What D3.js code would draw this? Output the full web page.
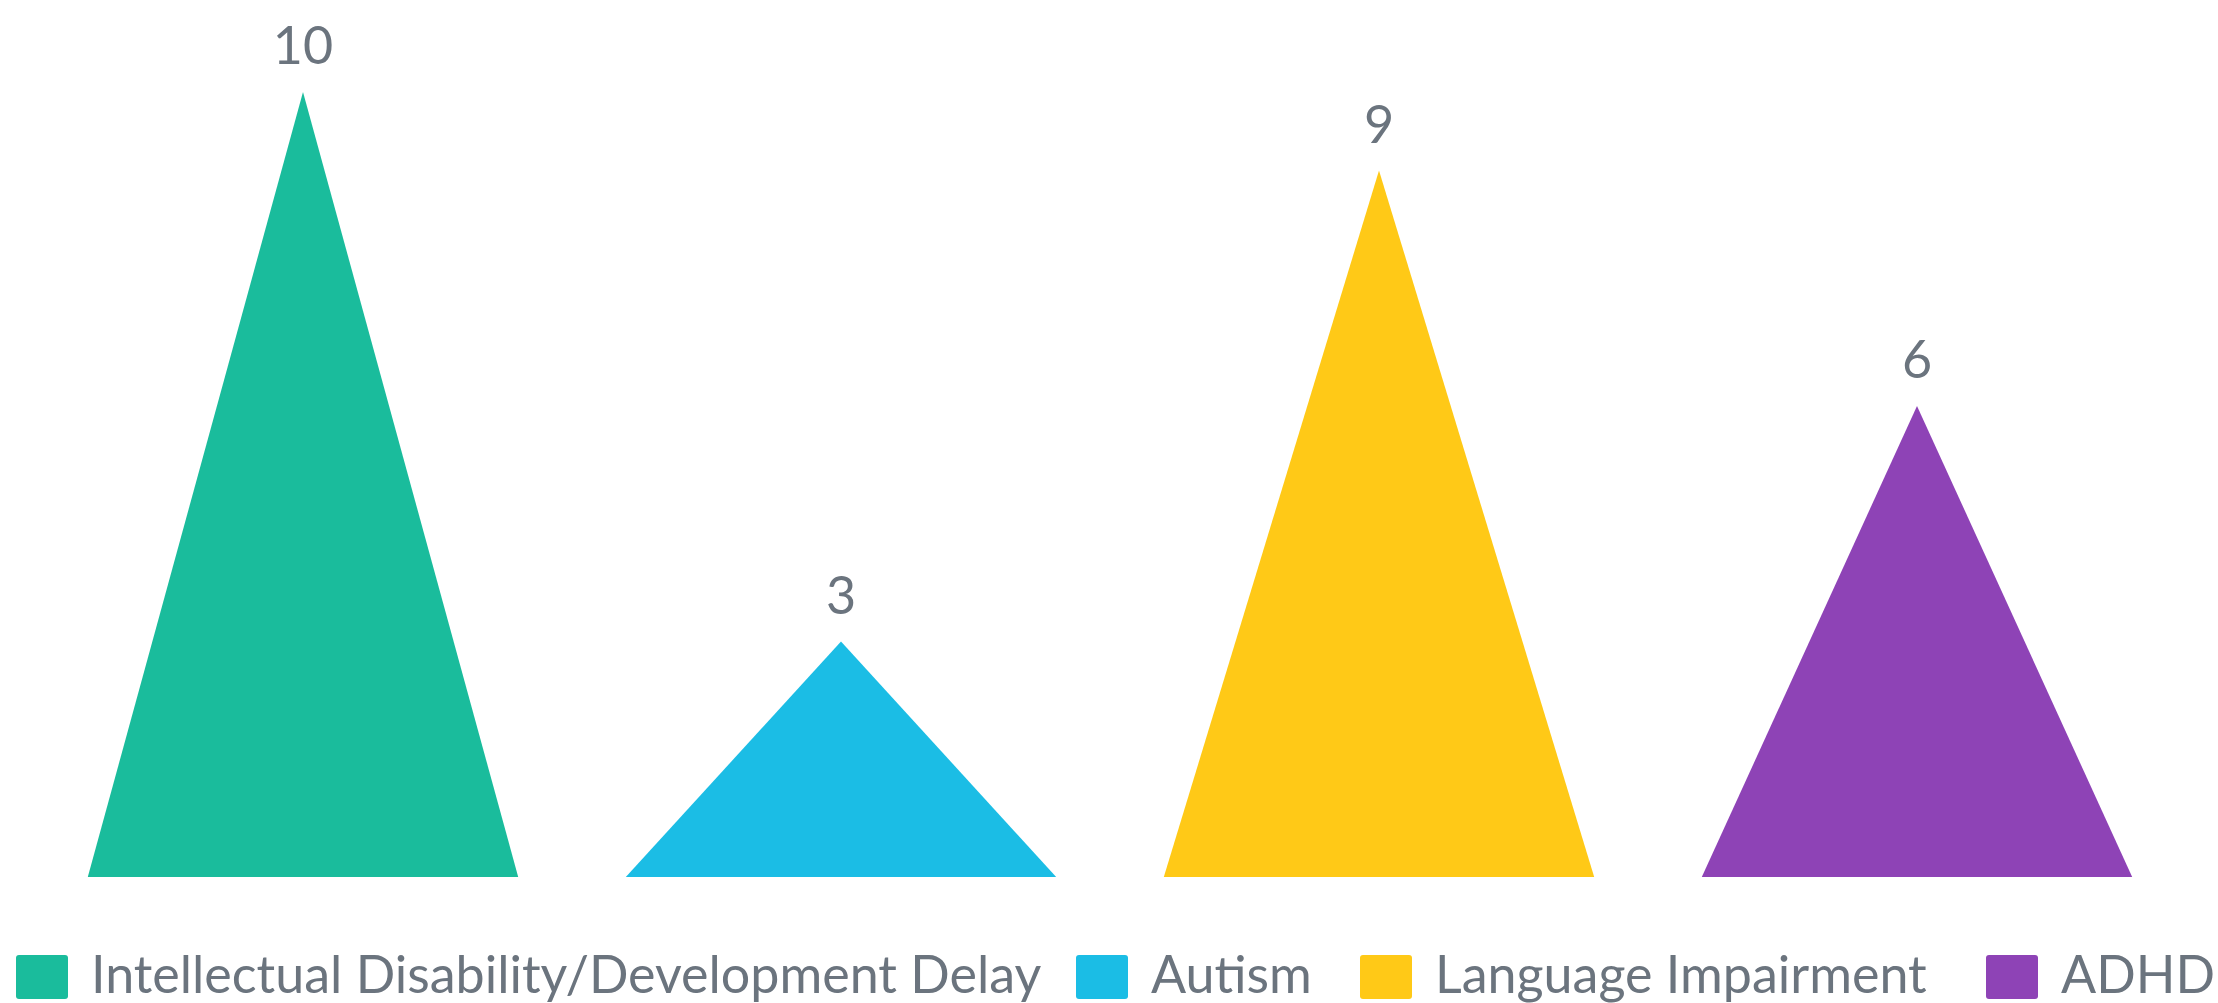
<!DOCTYPE html>
<html>
<head>
<meta charset="utf-8">
<script src="https://cdn.jsdelivr.net/npm/d3@7"></script>
<style>
  html, body { margin: 0; padding: 0; background: #fff; }
  svg { display: block; font-family: Lato, "Open Sans", sans-serif; }
</style>
</head>
<body>
<svg id="chart"></svg>
<script>
// data
const categories = ['Intellectual Disability/Development Delay', 'Autism', 'Language Impairment', 'ADHD'];
const values = [10, 3, 9, 6];
const colors = ['#1abc9c', '#1bbde5', '#ffc917', '#8e43b6'];

// layout
const width = 2218;
const height = 1003;
const baseY = 877;
const topY = 92;
const legendX = [16, 1076, 1360, 1986];
const textColor = '#6b747e';

var svg = d3.select('#chart').attr('width', width).attr('height', height);

var xScale = d3
  .scaleBand()
  .domain(categories)
  .range([34, 2186])
  .paddingInner(0.2)
  .paddingOuter(0.1);

var yScale = d3
  .scaleLinear()
  .domain([0, 10])
  .range([baseY, topY]);

function triangle(d) {
  let x0 = xScale(d.cat);
  let x1 = x0 + xScale.bandwidth();
  let xm = x0 + xScale.bandwidth() / 2;
  return `M${x0},${yScale(0)}L${xm},${yScale(d.value)}L${x1},${yScale(0)}Z`;
}

let rows = categories.map((c, i) => ({ cat: c, value: values[i], color: colors[i] }));

var groups = svg
  .selectAll('.bar')
  .data(rows)
  .enter()
  .append('g')
  .attr('class', 'bar');

groups
  .append('path')
  .attr('d', triangle)
  .attr('fill', d => d.color);

groups
  .append('text')
  .attr('x', d => xScale(d.cat) + xScale.bandwidth() / 2)
  .attr('y', d => yScale(d.value) - 28)
  .attr('text-anchor', 'middle')
  .attr('fill', textColor)
  .style('font-size', '52px')
  .text(d => d.value);

// legend
var legend = svg
  .selectAll('.legend')
  .data(rows)
  .enter()
  .append('g')
  .attr('class', 'legend')
  .attr('transform', (d, i) => `translate(${legendX[i]},955)`);

legend
  .append('rect')
  .attr('width', 52)
  .attr('height', 44)
  .attr('rx', 3)
  .attr('fill', d => d.color);

legend
  .append('text')
  .attr('x', 75)
  .attr('y', 38)
  .attr('fill', textColor)
  .style('font-size', '52px')
  .text(d => d.cat);
</script>
</body>
</html>
